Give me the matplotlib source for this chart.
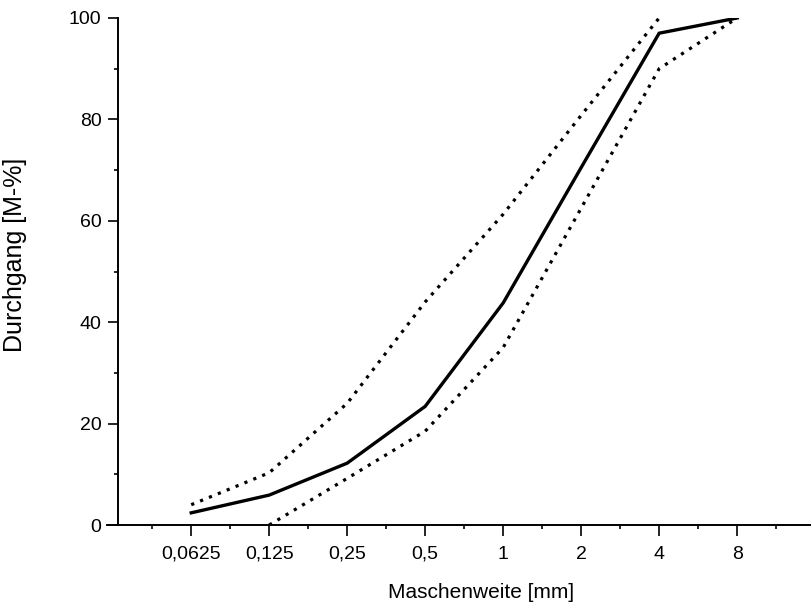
import matplotlib
matplotlib.use("Agg")
import matplotlib.pyplot as plt
from matplotlib.ticker import FixedLocator, MultipleLocator, NullFormatter

plt.rcParams['font.family'] = ['Liberation Sans', 'DejaVu Sans']

# sieve sizes in mm and their labels
sizes = [0.0625, 0.125, 0.25, 0.5, 1, 2, 4, 8]
size_labels = ["0,0625", "0,125", "0,25", "0,5", "1", "2", "4", "8"]

# passing [M-%]
sieve_line = [2.4, 5.9, 12.2, 23.4, 43.8, 70.5, 97.0, 100.0]
upper_sizes = [0.0625, 0.125, 0.25, 0.5, 1, 2, 4]
upper_limit = [4.0, 10.3, 24.0, 44.0, 61.3, 80.8, 100.0]
lower_sizes = [0.125, 0.25, 0.5, 1, 2, 4, 8]
lower_limit = [0.0, 9.2, 18.5, 35.0, 62.5, 90.0, 100.0]


def main():
    fig = plt.figure(figsize=(8.12, 6.06), dpi=100)
    ax = fig.add_axes([107 / 812, 81 / 606, 705 / 812, 507 / 606])

    ax.set_xscale('log', base=2)
    ax.plot(sizes, sieve_line, color='black', lw=2.4, solid_joinstyle='miter')
    ax.plot(upper_sizes, upper_limit, color='black', lw=2.3, linestyle=(0, (1, 2)))
    ax.plot(lower_sizes, lower_limit, color='black', lw=2.3, linestyle=(0, (1, 2)))

    ax.set_xlim(2 ** -5.08, 2 ** 3.96)
    ax.set_ylim(0, 100)

    ax.xaxis.set_major_locator(FixedLocator(sizes))
    ax.xaxis.set_minor_locator(FixedLocator([s * 2 ** -0.5 for s in sizes] + [8 * 2 ** 0.5]))
    ax.xaxis.set_minor_formatter(NullFormatter())
    ax.set_xticks(sizes)
    ax.set_xticklabels(size_labels)
    ax.yaxis.set_major_locator(MultipleLocator(20))
    ax.yaxis.set_minor_locator(MultipleLocator(10))

    for s in ['top', 'right']:
        ax.spines[s].set_visible(False)
    ax.spines['left'].set_position(('data', 2 ** -4.936))
    ax.spines['left'].set_linewidth(1.4)
    ax.spines['bottom'].set_linewidth(1.4)

    ax.tick_params(axis='x', which='major', direction='out', length=8, width=1.2, pad=7, labelsize=14)
    ax.tick_params(axis='x', which='minor', direction='out', length=3, width=1.2)
    ax.tick_params(axis='y', which='major', direction='out', length=7, width=1.2, pad=5, labelsize=14)
    ax.tick_params(axis='y', which='minor', direction='out', length=3, width=1.2)

    ax.set_xlabel("Maschenweite [mm]", fontsize=15)
    ax.set_ylabel("Durchgang [M-%]", fontsize=18)
    ax.xaxis.set_label_coords(0.53, -0.114)
    ax.yaxis.set_label_coords(-0.113, 0.533)

    fig.savefig("out.png", dpi=100)


if __name__ == "__main__":
    main()
